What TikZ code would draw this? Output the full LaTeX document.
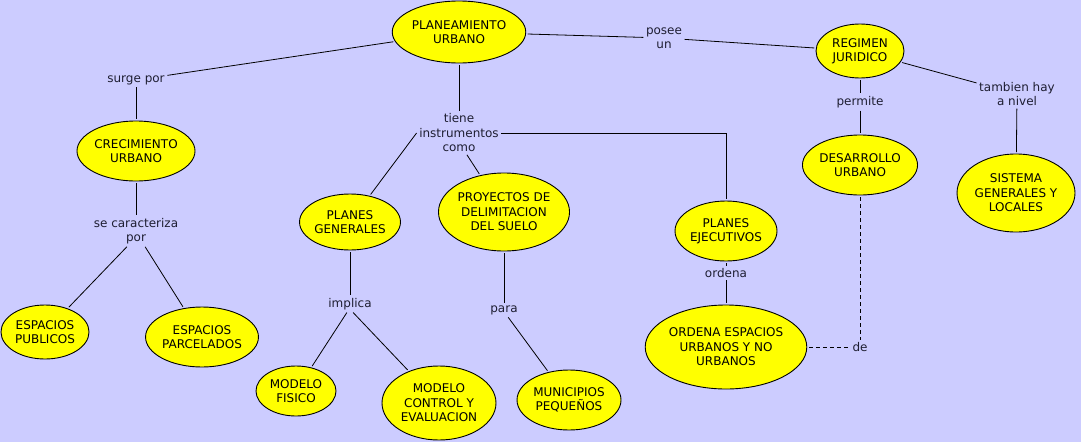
\documentclass[tikz,border=0pt]{standalone}
\usepackage{fontspec}
\setmainfont{DejaVu Sans}
\usetikzlibrary{shapes.geometric}
\definecolor{bgc}{RGB}{204,204,255}
\definecolor{ylw}{RGB}{255,255,0}
\definecolor{lnk}{RGB}{30,30,50}
\tikzset{
  concept/.style={ellipse, draw=black, line width=0.9pt, fill=ylw, inner sep=0pt, outer sep=2pt, align=center, text=black, font=\fontsize{12}{14.5}\selectfont},
  linkphrase/.style={inner sep=2.5pt, align=center, text=lnk, font=\fontsize{12}{14.5}\selectfont},
  conn/.style={draw=black, line width=0.8pt},
  dconn/.style={draw=black, line width=0.8pt, dash pattern=on 4pt off 3pt}
}
\begin{document}
\begin{tikzpicture}[x=1pt,y=-1pt]
\fill[bgc] (0,0) rectangle (1081,442);
\useasboundingbox (0,0) rectangle (1081,442);

% concepts
\node[concept, minimum width=126pt, minimum height=62pt] (plan) at (459,32) {PLANEAMIENTO\\URBANO};
\node[concept, minimum width=88pt, minimum height=54pt] (regimen) at (860,51) {REGIMEN\\JURIDICO};
\node[concept, minimum width=108pt, minimum height=60pt] (desarrollo) at (860,165) {DESARROLLO\\URBANO};
\node[concept, minimum width=118pt, minimum height=78pt] (sistema) at (1016,193) {SISTEMA\\GENERALES Y\\LOCALES};
\node[concept, minimum width=102pt, minimum height=60pt] (planej) at (726,231) {PLANES\\EJECUTIVOS};
\node[concept, minimum width=152pt, minimum height=84pt] (ordenaesp) at (726,347) {ORDENA ESPACIOS\\URBANOS Y NO\\URBANOS};
\node[concept, minimum width=112pt, minimum height=60pt] (crec) at (136,151) {CRECIMIENTO\\URBANO};
\node[concept, minimum width=88pt, minimum height=54pt] (pub) at (45,332) {ESPACIOS\\PUBLICOS};
\node[concept, minimum width=108pt, minimum height=60pt] (parc) at (202,337) {ESPACIOS\\PARCELADOS};
\node[concept, minimum width=98pt, minimum height=56pt] (plangen) at (350,222) {PLANES\\GENERALES};
\node[concept, minimum width=130pt, minimum height=78pt] (proy) at (504,212) {PROYECTOS DE\\DELIMITACION\\DEL SUELO};
\node[concept, minimum width=80pt, minimum height=50pt] (fisico) at (296,391) {MODELO\\FISICO};
\node[concept, minimum width=114pt, minimum height=74pt] (control) at (439,403) {MODELO\\CONTROL Y\\EVALUACION};
\node[concept, minimum width=104pt, minimum height=60pt] (muni) at (569,400) {MUNICIPIOS\\PEQUEÑOS};

% linking phrases
\node[linkphrase] (surge) at (136,80) {surge por};
\node[linkphrase] (secar) at (136,231) {se caracteriza\\por};
\node[linkphrase] (tiene) at (459,133) {tiene\\instrumentos\\como};
\node[linkphrase] (posee) at (664,38) {posee\\un};
\node[linkphrase] (permite) at (860,102) {permite};
\node[linkphrase] (tambien) at (1017,94) {tambien hay\\a nivel};
\node[linkphrase] (implica) at (350,304) {implica};
\node[linkphrase] (para) at (504,310) {para};
\node[linkphrase] (ordena) at (726,273) {ordena};
\node[linkphrase] (de) at (860,347) {de};

% connectors
\draw[conn] (plan) -- (surge);
\draw[conn] (surge) -- (crec);
\draw[conn] (crec) -- (secar);
\draw[conn] (secar.-120) -- (pub);
\draw[conn] (secar.-60) -- (parc);
\draw[conn] (plan) -- (tiene);
\draw[conn] (tiene.west) -- (plangen);
\draw[conn] (tiene.-70) -- (proy);
\draw[conn] (tiene.east) -| (planej.north);
\draw[conn] (plan) -- (posee);
\draw[conn] (posee) -- (regimen);
\draw[conn] (regimen) -- (permite);
\draw[conn] (permite) -- (desarrollo);
\draw[conn] (regimen) -- (tambien);
\draw[conn] (tambien) -- (sistema);
\draw[conn] (plangen) -- (implica);
\draw[conn] (implica.-110) -- (fisico);
\draw[conn] (implica.-70) -- (control);
\draw[conn] (proy) -- (para);
\draw[conn] (para.-60) -- (muni);
\draw[conn] (planej) -- (ordena);
\draw[conn] (ordena) -- (ordenaesp);
\draw[dconn] (desarrollo) -- (de);
\draw[dconn] (ordenaesp) -- (de);
\end{tikzpicture}
\end{document}
